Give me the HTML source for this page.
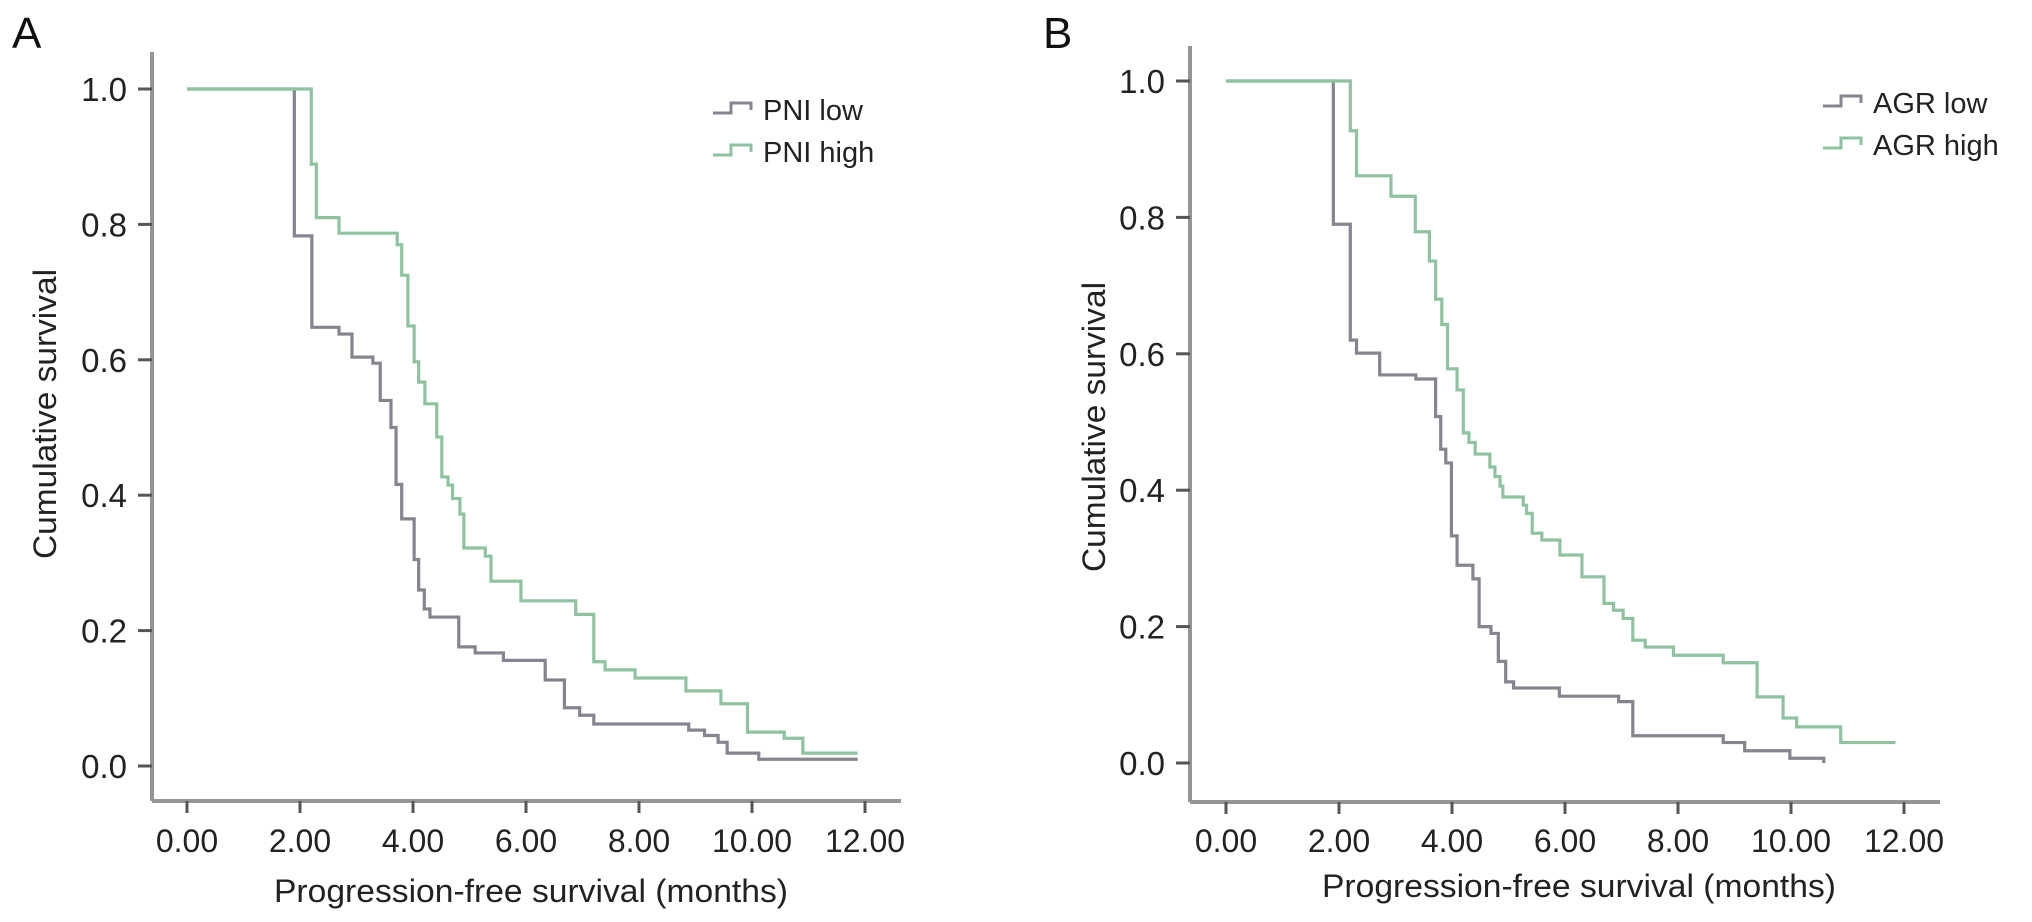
<!DOCTYPE html>
<html><head><meta charset="utf-8">
<style>
html,body{margin:0;padding:0;background:#fff;}
svg{display:block;font-family:"Liberation Sans",Arial,sans-serif;}
</style></head>
<body>
<svg id="chart" width="2032" height="922" viewBox="0 0 2032 922" xmlns="http://www.w3.org/2000/svg"></svg>
<script>
// ---- data ----
const xTickValues = [0,2,4,6,8,10,12];
const xTickLabels = ["0.00","2.00","4.00","6.00","8.00","10.00","12.00"];
const yTickValues = [0,0.2,0.4,0.6,0.8,1.0];
const yTickLabels = ["0.0","0.2","0.4","0.6","0.8","1.0"];

const pniLowT = [0,1.90,2.21,2.69,2.92,3.29,3.42,3.61,3.70,3.80,4.02,4.10,4.20,4.30,4.81,5.10,5.60,6.34,6.68,6.95,7.20,8.88,9.16,9.40,9.56,10.12,11.87];
const pniLowS = [1.0,0.783,0.648,0.638,0.604,0.595,0.54,0.50,0.416,0.365,0.305,0.26,0.232,0.22,0.176,0.167,0.156,0.127,0.086,0.075,0.062,0.053,0.045,0.035,0.019,0.01,0.01];
const pniHighT = [0,2.20,2.29,2.69,3.72,3.80,3.91,4.02,4.10,4.21,4.42,4.51,4.62,4.70,4.83,4.90,5.28,5.38,5.91,6.88,7.20,7.40,7.93,8.83,9.45,9.92,10.57,10.90,11.87];
const pniHighS = [1.0,0.889,0.81,0.787,0.77,0.725,0.65,0.597,0.567,0.535,0.486,0.427,0.415,0.395,0.372,0.322,0.31,0.273,0.244,0.224,0.154,0.142,0.13,0.111,0.092,0.05,0.041,0.019,0.019];

const agrLowT = [0,1.90,2.20,2.31,2.72,3.36,3.71,3.80,3.89,3.99,4.09,4.37,4.48,4.69,4.82,4.95,5.09,5.90,6.95,7.20,8.80,9.18,9.98,10.58];
const agrLowS = [1.0,0.79,0.62,0.601,0.569,0.563,0.508,0.46,0.44,0.333,0.29,0.27,0.20,0.19,0.149,0.119,0.11,0.098,0.09,0.04,0.03,0.018,0.007,0.0];
const agrHighT = [0,2.20,2.31,2.92,3.35,3.60,3.71,3.82,3.92,4.09,4.20,4.30,4.41,4.67,4.76,4.85,4.90,5.26,5.32,5.42,5.59,5.91,6.30,6.69,6.86,7.03,7.20,7.42,7.92,8.80,9.40,9.86,10.10,10.88,11.85];
const agrHighS = [1.0,0.927,0.861,0.831,0.779,0.736,0.68,0.643,0.578,0.547,0.484,0.47,0.453,0.434,0.42,0.406,0.39,0.378,0.366,0.337,0.327,0.305,0.273,0.234,0.224,0.212,0.18,0.17,0.158,0.147,0.097,0.066,0.053,0.03,0.03];

const NS = "http://www.w3.org/2000/svg";
const svg = document.getElementById('chart');
const LOW = "#85858f", HIGH = "#8fc3a0", AX = "#959595";

function mk(tag, attrs, parent){
  const e = document.createElementNS(NS, tag);
  for (const k in attrs) e.setAttribute(k, attrs[k]);
  (parent||svg).appendChild(e);
  return e;
}

function panel(cfg){
  const g = mk('g', {});
  
  
  const xS = m => cfg.x0 + cfg.xPerMonth * m;
  const yS = v => cfg.y0 - cfg.yPerUnit * v;

  const L = mk('text', {x: cfg.letterX, y: 48, 'font-size': 44, fill: '#111'}, g);
  L.textContent = cfg.letter;
  
  

  const ya = mk('line', {x1: cfg.axX, y1: cfg.axTop, x2: cfg.axX, y2: cfg.axBottom, stroke: AX, 'stroke-width': 4}, g);
  
  
  const xa = mk('line', {x1: cfg.axX, y1: cfg.axBottom, x2: cfg.axRight, y2: cfg.axBottom, stroke: AX, 'stroke-width': 4}, g);
  
  

  yTickValues.forEach((v, i) => {
    const y = yS(v);
    const t = mk('line', {x1: cfg.axX - 14, y1: y, x2: cfg.axX, y2: y, stroke: '#555', 'stroke-width': 3}, g);
    
    
    const tx = mk('text', {x: cfg.axX - 25, y: y + 12, 'font-size': 33, 'text-anchor': 'end', fill: '#222'}, g);
    tx.textContent = yTickLabels[i];
    
    
  });
  xTickValues.forEach((m, i) => {
    const x = xS(m);
    const t = mk('line', {x1: x, y1: cfg.axBottom, x2: x, y2: cfg.axBottom + 12, stroke: '#555', 'stroke-width': 3}, g);
    
    
    const tx = mk('text', {x: x, y: 852, 'font-size': 32, 'text-anchor': 'middle', fill: '#222'}, g);
    tx.textContent = xTickLabels[i];
    
    
  });

  const xt = mk('text', {x: cfg.xTitleX, y: cfg.xTitleY, 'font-size': 32, 'text-anchor': 'middle', fill: '#222', textLength: 514, lengthAdjust: 'spacingAndGlyphs'}, g);
  xt.textContent = 'Progression-free survival (months)';
  
  
  const yt = mk('text', {x: 0, y: 0, 'font-size': 32, 'text-anchor': 'middle', fill: '#222', textLength: 290, lengthAdjust: 'spacingAndGlyphs',
    transform: `translate(${cfg.yTitleX},${cfg.yTitleY}) rotate(-90)`}, g);
  yt.textContent = 'Cumulative survival';
  
  

  function stepPath(T, S){
    let d = `M${xS(T[0])},${yS(S[0])}`;
    for (let i = 1; i < T.length; i++){
      d += ` H${xS(T[i])} V${yS(S[i])}`;
    }
    return d;
  }
  cfg.series.forEach(s => {
    const p = mk('path', {d: stepPath(s.t, s.s), fill: 'none', stroke: s.color, 'stroke-width': 3.2}, g);
    
    
  });

  cfg.series.forEach((s, i) => {
    const ly = cfg.legY + i * 42;
    const lg = mk('g', {}, g);
    
    
    const ix = cfg.legX;
    mk('path', {d: `M${ix},${ly-7} H${ix+18} V${ly-17} H${ix+38} V${ly-10}`, fill: 'none', stroke: s.color, 'stroke-width': 3}, lg);
    const t = mk('text', {x: ix + 50, y: ly, 'font-size': 29, fill: '#222'}, lg);
    t.textContent = s.label;
  });
}

panel({
  name: 'panel-a-pni', letter: 'A', letterX: 12,
  x0: 187, xPerMonth: 56.5, y0: 766, yPerUnit: 677,
  axX: 152, axTop: 52, axBottom: 801, axRight: 901,
  xTitleX: 531, xTitleY: 902, yTitleX: 56, yTitleY: 414,
  legX: 713, legY: 120,
  series: [
    {name: 'pni-low-curve', label: 'PNI low', t: pniLowT, s: pniLowS, color: LOW},
    {name: 'pni-high-curve', label: 'PNI high', t: pniHighT, s: pniHighS, color: HIGH}
  ]
});
panel({
  name: 'panel-b-agr', letter: 'B', letterX: 1043,
  x0: 1226, xPerMonth: 56.5, y0: 763, yPerUnit: 682,
  axX: 1190, axTop: 46, axBottom: 802, axRight: 1940,
  xTitleX: 1579, xTitleY: 897, yTitleX: 1105, yTitleY: 427,
  legX: 1823, legY: 113,
  series: [
    {name: 'agr-low-curve', label: 'AGR low', t: agrLowT, s: agrLowS, color: LOW},
    {name: 'agr-high-curve', label: 'AGR high', t: agrHighT, s: agrHighS, color: HIGH}
  ]
});
</script>
</body></html>
